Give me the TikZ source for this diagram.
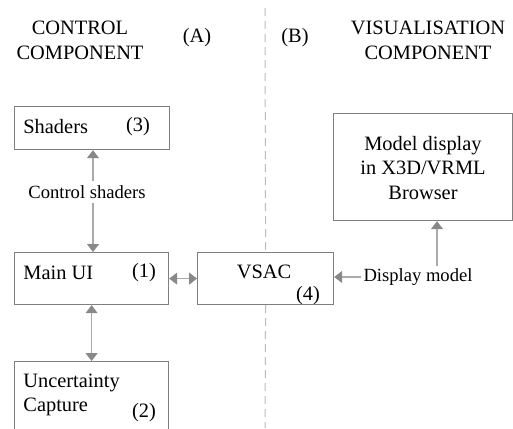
\documentclass[tikz,border=0pt]{standalone}
\usepackage{fontspec}
\setmainfont{Liberation Serif}
\usetikzlibrary{arrows.meta}

\definecolor{boxgrey}{HTML}{7F7F7F}
\definecolor{linegrey}{HTML}{AAAAAA}
\definecolor{tipgrey}{HTML}{888888}
\definecolor{dashgrey}{HTML}{BBBBBB}

\begin{document}
\begin{tikzpicture}[
        x=0.5pt, y=-0.5pt,
        line cap=butt,
        box/.style={draw=boxgrey, line width=0.6pt, anchor=north west, inner sep=0pt},
        txt/.style={inner sep=0pt, font=\fontsize{10.2}{12}\selectfont},
        lbl/.style={inner sep=1pt, font=\fontsize{9.3}{11}\selectfont},
        head/.style={inner sep=0pt, align=center, font=\fontsize{10.2}{10.5}\selectfont},
        tip/.style={draw=linegrey, line width=0.55pt,
            -{Triangle[width=6pt,length=4pt,color=tipgrey]}},
        dbl/.style={draw=linegrey, line width=0.55pt,
            {Triangle[width=6pt,length=4pt,color=tipgrey]}-{Triangle[width=6pt,length=4pt,color=tipgrey]}},
        divider/.style={draw=dashgrey, line width=0.5pt, dash pattern=on 4pt off 2.5pt}
    ]
        \useasboundingbox (0,0) rectangle (513,428);
        \clip (0,0) rectangle (513,428);

        % headings
        \node[head] (ctrl) at (80,40) {CONTROL\\[2pt]COMPONENT};
        \node[head] (vis) at (428,40) {VISUALISATION\\[2pt]COMPONENT};
        \node[txt] (parta) at (197,38) {(A)};
        \node[txt] (partb) at (295,38) {(B)};

        % boxes
        \node[box, minimum width=77.5pt, minimum height=21.5pt] (shaders) at (14,106) {};
        \node[box, minimum width=77pt, minimum height=26pt] (mainui) at (14,252) {};
        \node[box, minimum width=77pt, minimum height=40pt] (uncert) at (14,361) {};
        \node[box, minimum width=68pt, minimum height=26pt] (vsac) at (197,252) {};
        \node[box, minimum width=89.5pt, minimum height=53.5pt] (model) at (333,113) {};

        % box texts
        \node[txt, anchor=west] (shaderst) at (23,127) {Shaders};
        \node[txt] (shadersn) at (138,127) {(3)};
        \node[txt, anchor=west] (mainuit) at (23,273) {Main UI};
        \node[txt] (mainuin) at (144,273) {(1)};
        \node[txt, anchor=west, align=left] (uncertt) at (23,395) {Uncertainty\\Capture};
        \node[txt] (uncertn) at (144,413) {(2)};
        \node[txt] (vsact) at (264,272) {VSAC};
        \node[txt] (vsacn) at (308,296) {(4)};
        \node[txt, align=center, font=\fontsize{10.2}{12.25}\selectfont] (modelt) at (423,168)
            {Model display\\in X3D/VRML\\Browser};

        % labels
        \node[lbl] (ctrlsh) at (87,192) {Control shaders};
        \node[lbl] (dispm) at (418,277) {Display model};
        \coordinate (csup) at (93,181);
        \coordinate (csdn) at (93,203);
        \coordinate (dispup) at (437,266);

        % divider
        \coordinate (dtop) at (265,8);
        \coordinate (dbot) at (265,428);
        \draw[divider] (dtop) -- (vsac.north);
        \draw[divider] (vsac.south) -- (dbot);

        % connectors
        \draw[tip] (csup) -- (csup |- shaders.south);
        \draw[tip] (csdn) -- (csdn |- mainui.north);
        \draw[dbl] (mainui.east) -- (vsac.west);
        \draw[dbl] (mainui.south) -- (uncert.north);
        \draw[tip] (dispm.west) -- (dispm.west -| vsac.east);
        \draw[tip] (dispup) -- (dispup |- model.south);
    \end{tikzpicture}
\end{document}
